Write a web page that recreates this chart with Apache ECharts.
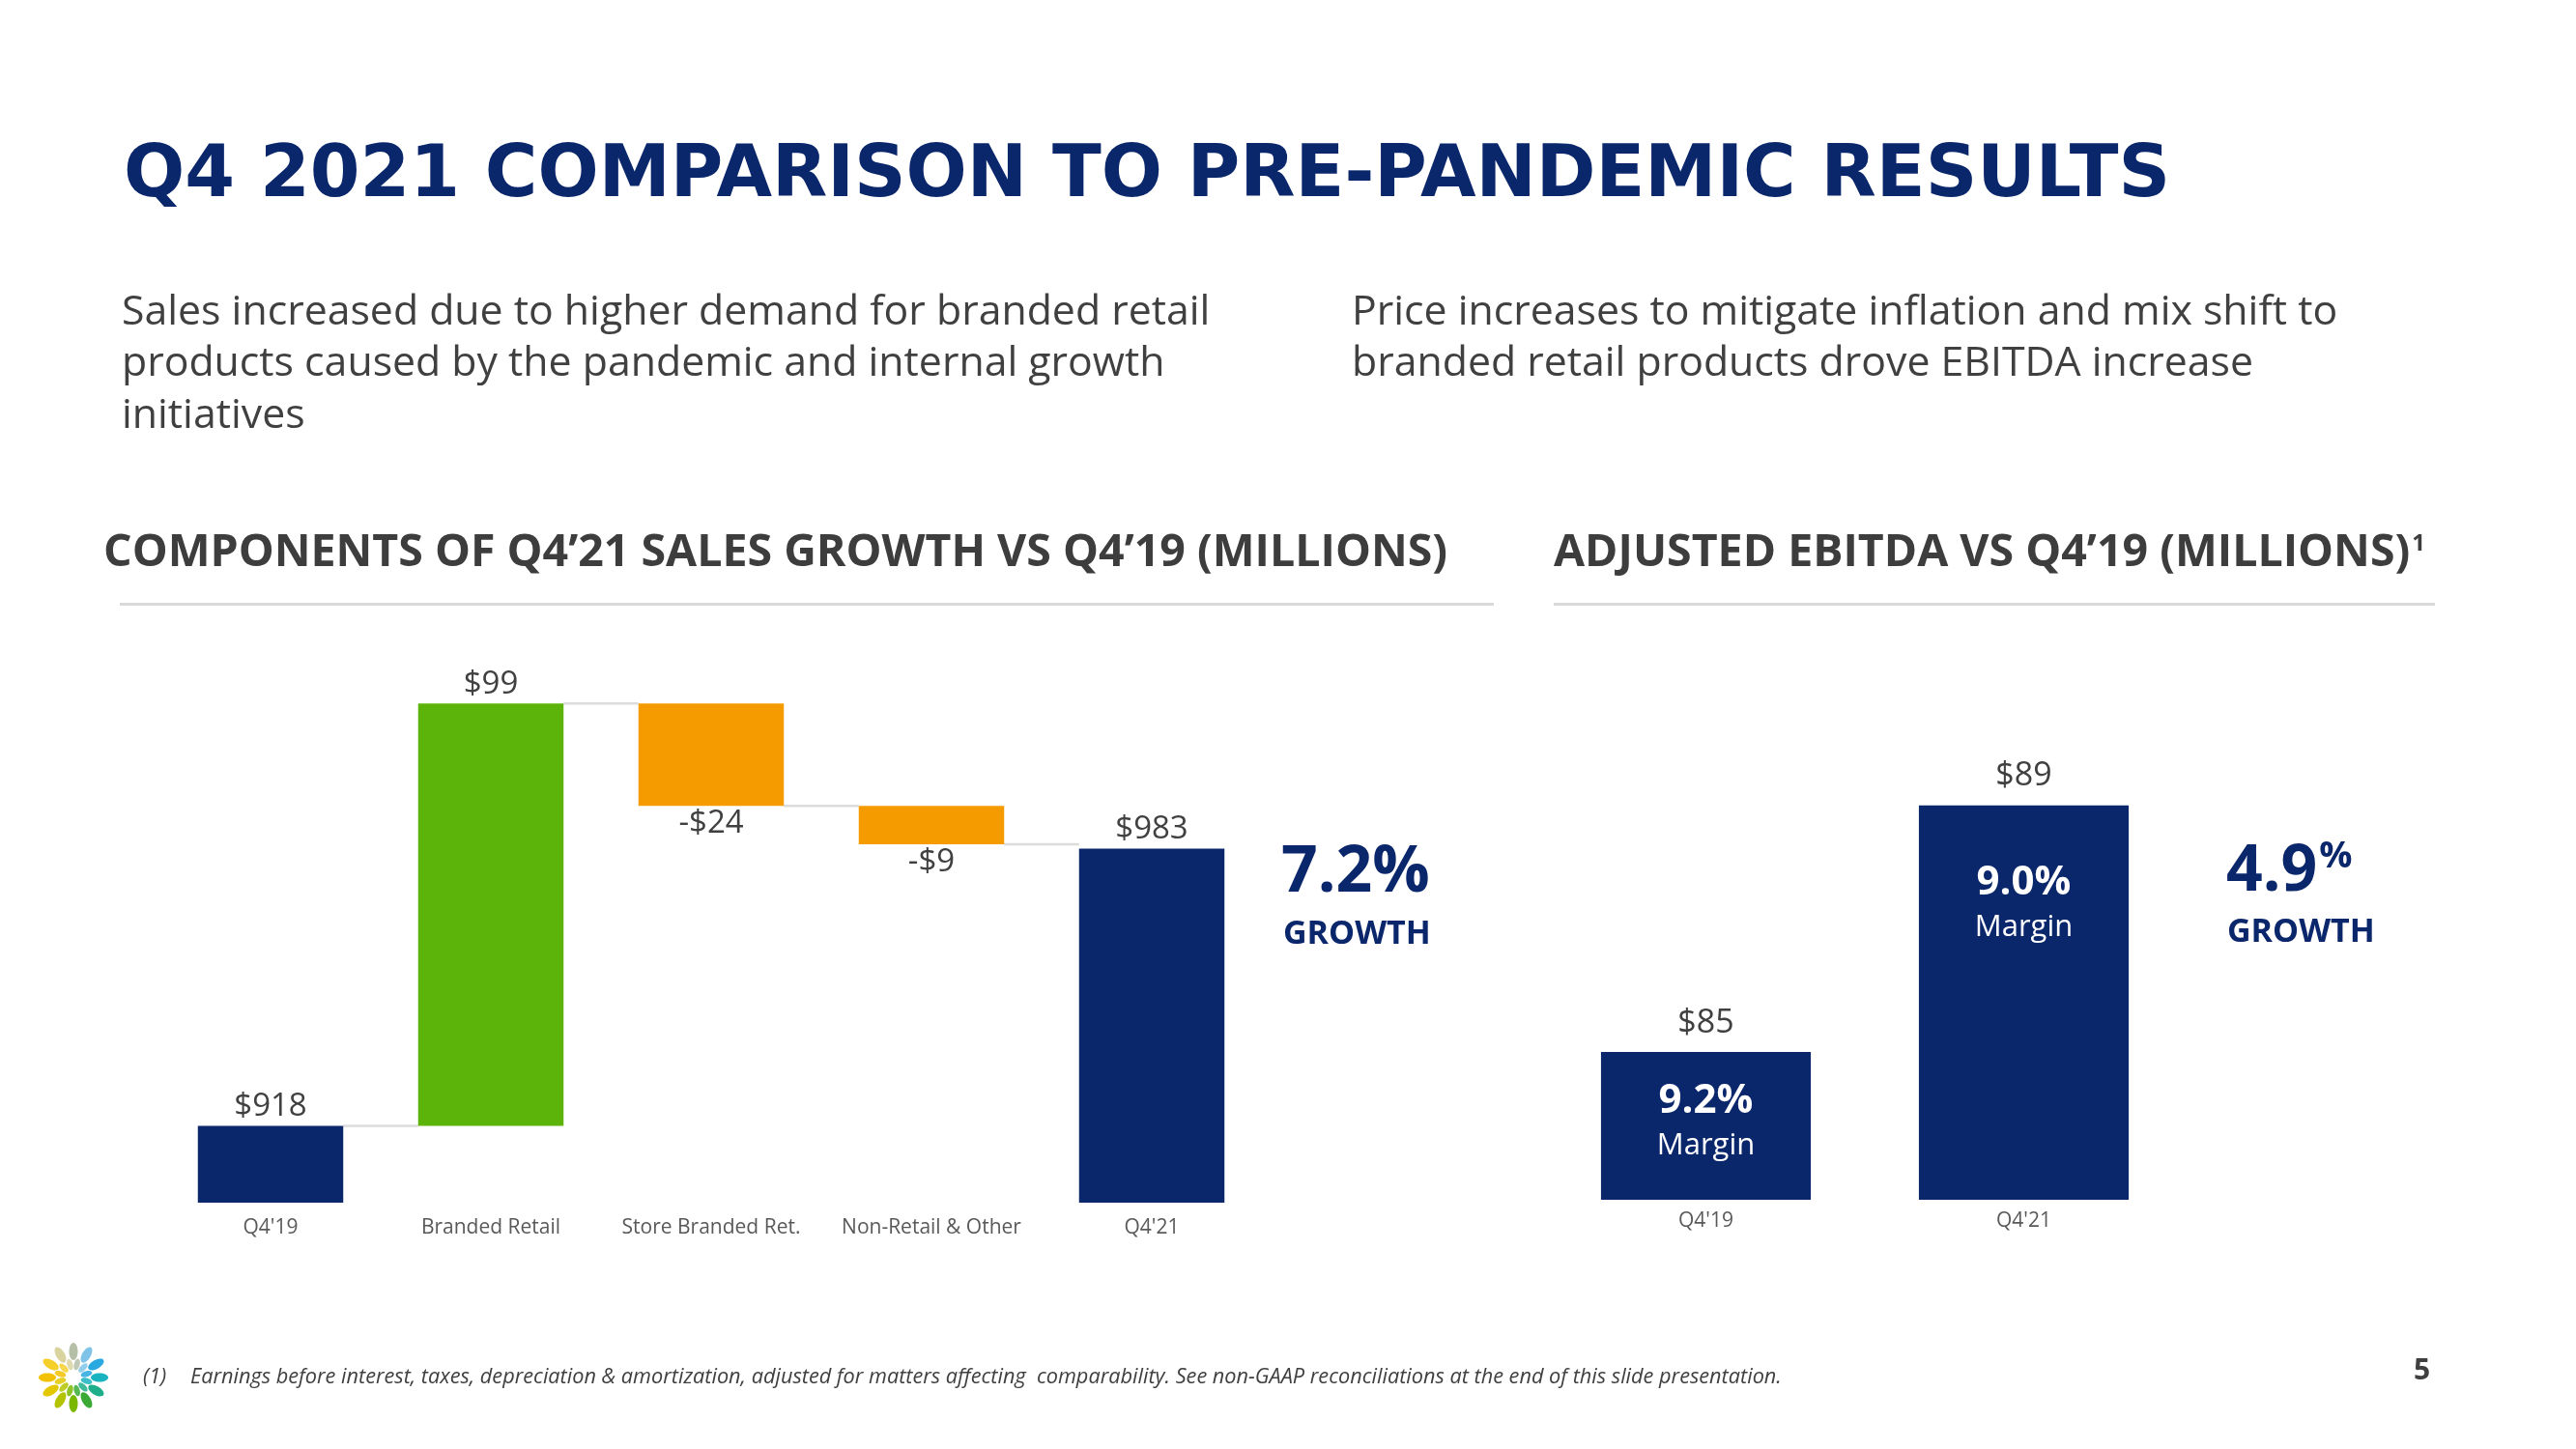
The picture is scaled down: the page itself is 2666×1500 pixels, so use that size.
<!DOCTYPE html>
<html>
<head>
<meta charset="utf-8">
<script src="https://cdn.jsdelivr.net/npm/echarts@6/dist/echarts.min.js"></script>
<style>
html,body{margin:0;padding:0;background:#fff;}
#chart{width:2666px;height:1500px;}
</style>
</head>
<body>
<div id="chart"></div>
<script>
// ---- data ----
const salesCategories = ["Q4'19", "Branded Retail", "Store Branded Ret.", "Non-Retail & Other", "Q4'21"];
const salesValues = [918, 99, -24, -9, 983];
const salesKinds = ['total', 'delta', 'delta', 'delta', 'total'];
const salesGrowth = '7.2%';

const ebitdaCategories = ["Q4'19", "Q4'21"];
const ebitdaValues = [85, 89];
const ebitdaMargins = ['9.2%', '9.0%'];
const ebitdaGrowth = '4.9';

// ---- styles ----
const NAVY = '#0b276c';
const GREEN = '#5cb30a';
const ORANGE = '#f59b00';
const TXT = '#404040';
const FONT = '"Open Sans", "Noto Sans", sans-serif';

// waterfall build
const placeholder = [], visible = [], levels = [];
let running = 0;
salesValues.forEach((v, i) => {
  if (salesKinds[i] === 'total') { placeholder.push(0); visible.push(v); running = v; }
  else if (v >= 0) { placeholder.push(running); visible.push(v); running += v; }
  else { running += v; placeholder.push(running); visible.push(-v); }
  levels.push(running);
});
const barColor = i => salesKinds[i] === 'total' ? NAVY : (salesValues[i] >= 0 ? GREEN : ORANGE);
const fmtMoney = v => (v < 0 ? '-$' + Math.abs(v) : '$' + v);

const chart = echarts.init(document.getElementById('chart'));

// measure right heading for superscript placement
const HEAD_FONT = 'bold 46.5px "Open Sans", "Noto Sans", sans-serif';
const rightHeading = 'ADJUSTED EBITDA VS Q4’19 (MILLIONS)';
const mctx = document.createElement('canvas').getContext('2d');
mctx.font = HEAD_FONT;
const rightHeadingW = mctx.measureText(rightHeading).width;

// logo
const logoColors = ['#b5bfa8','#7fc4e8','#2aa8e0','#19b3c0','#1fae8a','#3aaa35','#7ab800','#b3c300','#e3c800','#f2c200','#f5cf2a','#d9d3a0'];
const logoChildren = [];
logoColors.forEach((c, k) => {
  const ang = k / logoColors.length * Math.PI * 2;
  logoChildren.push({type:'ellipse', shape:{cx:0, cy:-27, rx:4.5, ry:9}, rotation:-ang, style:{fill:c}});
  logoChildren.push({type:'ellipse', shape:{cx:0, cy:-14, rx:3, ry:6}, rotation:-(ang + 0.26), style:{fill:c, opacity:0.85}});
});

const option = {
  backgroundColor: '#fff',
  animation: false,
  grid: [
    {left: 166, top: 715, width: 1140, height: 530},
    {left: 1601, top: 770, width: 658, height: 472}
  ],
  xAxis: [
    {type:'category', gridIndex:0, data:salesCategories,
     axisLine:{show:false}, axisTick:{show:false},
     axisLabel:{color:'#595959', fontSize:21, fontFamily:FONT, margin:16, interval:0}},
    {type:'category', gridIndex:1, data:ebitdaCategories,
     axisLine:{show:false}, axisTick:{show:false},
     axisLabel:{color:'#595959', fontSize:21, fontFamily:FONT, margin:12}}
  ],
  yAxis: [
    {type:'value', gridIndex:0, min:900, max:1020, show:false, splitLine:{show:false}},
    {type:'value', gridIndex:1, min:82.6, max:90, show:false, splitLine:{show:false}}
  ],
  series: [
    {type:'bar', xAxisIndex:0, yAxisIndex:0, stack:'wf', barWidth:'66%',
     itemStyle:{color:'rgba(0,0,0,0)'}, data: placeholder, silent:true},
    {type:'bar', xAxisIndex:0, yAxisIndex:0, stack:'wf', barWidth:'66%',
     data: visible.map((v, i) => ({
       value: v,
       itemStyle: {color: barColor(i)},
       label: {position: (salesKinds[i] === 'delta' && salesValues[i] < 0) ? 'bottom' : 'top',
               distance: (salesKinds[i] === 'delta' && salesValues[i] < 0) ? 2 : 3}
     })),
     label: {show:true, color:TXT, fontSize:33, fontFamily:FONT,
       formatter: p => fmtMoney(salesValues[p.dataIndex])}},
    {type:'custom', xAxisIndex:0, yAxisIndex:0, z:1,
     data: levels.slice(0, -1).map((l, i) => [i, l]),
     renderItem: (params, api) => {
       const i = api.value(0), y = api.value(1);
       const p0 = api.coord([i, y]), p1 = api.coord([i + 1, y]);
       const hw = api.size([1, 0])[0] * 0.66 / 2;
       return {type:'line', shape:{x1:p0[0] + hw, y1:p0[1], x2:p1[0] - hw, y2:p1[1]},
               style:{stroke:'#dcdcdc', lineWidth:2.5}};
     }},
    {type:'bar', xAxisIndex:1, yAxisIndex:1, barWidth:'66%',
     itemStyle:{color:NAVY}, data: ebitdaValues,
     label:{show:true, position:'top', distance:13, color:TXT, fontSize:34, fontFamily:FONT,
       formatter: p => '$' + p.value}},
    {type:'bar', xAxisIndex:1, yAxisIndex:1, barWidth:'66%', barGap:'-100%', z:3,
     itemStyle:{color:'rgba(0,0,0,0)'},
     data: ebitdaValues.map((v, i) => ({value:v, label:{distance: i === 0 ? 28 : 57}})),
     label:{show:true, position:'insideTop',
       formatter: p => '{a|' + ebitdaMargins[p.dataIndex] + '}\n{b|Margin}',
       rich:{
         a:{color:'#fff', fontSize:42, fontWeight:'bold', fontFamily:FONT, lineHeight:46, align:'center'},
         b:{color:'#fff', fontSize:31, fontFamily:FONT, lineHeight:46, align:'center'}
       }}}
  ],
  graphic: [
    {type:'text', left:128, top:147, style:{text:'Q4 2021 COMPARISON TO PRE-PANDEMIC RESULTS',
      fill:NAVY, font:'bold 74.4px "DejaVu Sans", sans-serif'}},
    {type:'text', left:126, top:297, style:{text:'Sales increased due to higher demand for branded retail\nproducts caused by the pandemic and internal growth\ninitiatives',
      fill:TXT, fontSize:42.8, fontFamily:FONT, lineHeight:53.5}},
    {type:'text', left:1399, top:297, style:{text:'Price increases to mitigate inflation and mix shift to\nbranded retail products drove EBITDA increase',
      fill:TXT, fontSize:42.8, fontFamily:FONT, lineHeight:53.5}},
    {type:'text', left:107, top:544, style:{text:'COMPONENTS OF Q4’21 SALES GROWTH VS Q4’19 (MILLIONS)',
      fill:'#3d3d3d', font:HEAD_FONT, lineHeight:58}},
    {type:'text', left:1608, top:544, style:{text:rightHeading,
      fill:'#3d3d3d', font:HEAD_FONT, lineHeight:58}},
    {type:'text', left:1608 + rightHeadingW + 2, top:551, style:{text:'1',
      fill:'#3d3d3d', fontSize:24, fontWeight:'bold', fontFamily:FONT}},
    {type:'rect', shape:{x:124, y:624, width:1422, height:3}, style:{fill:'#d9d9d9'}},
    {type:'rect', shape:{x:1608, y:624, width:912, height:3}, style:{fill:'#d9d9d9'}},
    {type:'text', left:1326, top:916 - 45, style:{text:salesGrowth, fill:NAVY, fontSize:66, fontWeight:'bold', fontFamily:FONT}},
    {type:'text', left:1328, top:974 - 24, style:{text:'GROWTH', fill:NAVY, fontSize:34, fontWeight:'bold', fontFamily:FONT}},
    {type:'text', left:2304, top:913 - 45, style:{text:'{n|' + ebitdaGrowth + '}{p|%}',
      rich:{n:{fill:NAVY, fontSize:66, fontWeight:'bold', fontFamily:FONT, verticalAlign:'bottom'},
            p:{fill:NAVY, fontSize:38, fontWeight:'bold', fontFamily:FONT, verticalAlign:'top', padding:[0,0,30,2]}}}},
    {type:'text', left:2305, top:972 - 24, style:{text:'GROWTH', fill:NAVY, fontSize:34, fontWeight:'bold', fontFamily:FONT}},
    {type:'group', x:76, y:1426, children: logoChildren},
    {type:'text', left:148, top:1430 - 15, style:{text:'(1)', fill:TXT, fontSize:21.7, fontStyle:'italic', fontFamily:FONT}},
    {type:'text', left:197, top:1430 - 15, style:{text:'Earnings before interest, taxes, depreciation & amortization, adjusted for matters affecting  comparability. See non-GAAP reconciliations at the end of this slide presentation.',
      fill:TXT, fontSize:21.7, fontStyle:'italic', fontFamily:FONT}},
    {type:'text', left:2498, top:1425 - 21, style:{text:'5', fill:TXT, fontSize:30, fontWeight:'bold', fontFamily:FONT}}
  ]
};
chart.setOption(option);
</script>
</body>
</html>
